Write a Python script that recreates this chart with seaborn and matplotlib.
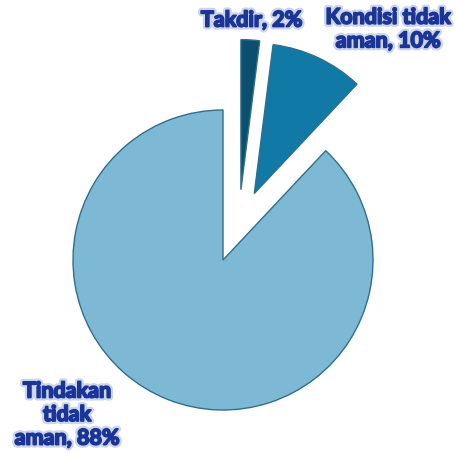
import matplotlib
matplotlib.use("Agg")
import matplotlib.pyplot as plt
import matplotlib.patheffects as pe
import seaborn as sns

# data
categories = ["Tindakan\ntidak\naman", "Kondisi tidak\naman", "Takdir"]
values = [88, 10, 2]
colors = ["#7db9d4", "#1079a6", "#0b4f6e"]
explode = [0.0, 0.49, 0.47]

sns.set_style("white")
plt.rcParams['font.family'] = ['Lato', 'DejaVu Sans']

fig = plt.figure(figsize=(4.57, 4.62), dpi=100)
ax = fig.add_axes([0, 0, 1, 1])
wedges, _ = ax.pie(values, colors=colors, explode=explode, startangle=90,
                   counterclock=True, radius=1.0,
                   wedgeprops=dict(edgecolor="#2f6f8c", linewidth=1.0))
# nudge the small slice sideways like in the reference
cx, cy = wedges[2].center
wedges[2].set_center((cx + 0.09, cy))

ax.set_xlim(-223 / 150, (457 - 223) / 150)
ax.set_ylim(-(462 - 260) / 150, 260 / 150)
ax.set_aspect('auto')
ax.axis('off')

txt_color = "#1b3597"
effects = [pe.Stroke(linewidth=4.5, foreground="#8fa3d8", alpha=0.45),
           pe.Stroke(linewidth=1.3, foreground=txt_color),
           pe.Normal()]
label_pos = [(-1.04, -1.03), (1.10, 1.54), (0.19, 1.60)]
for name, v, (x, y) in zip(categories, values, label_pos):
    ax.text(x, y, f"{name}, {v}%", ha="center", va="center", fontsize=15.5,
            fontweight="bold", color=txt_color, linespacing=1.15,
            path_effects=effects)

fig.savefig("out.png", dpi=100)
